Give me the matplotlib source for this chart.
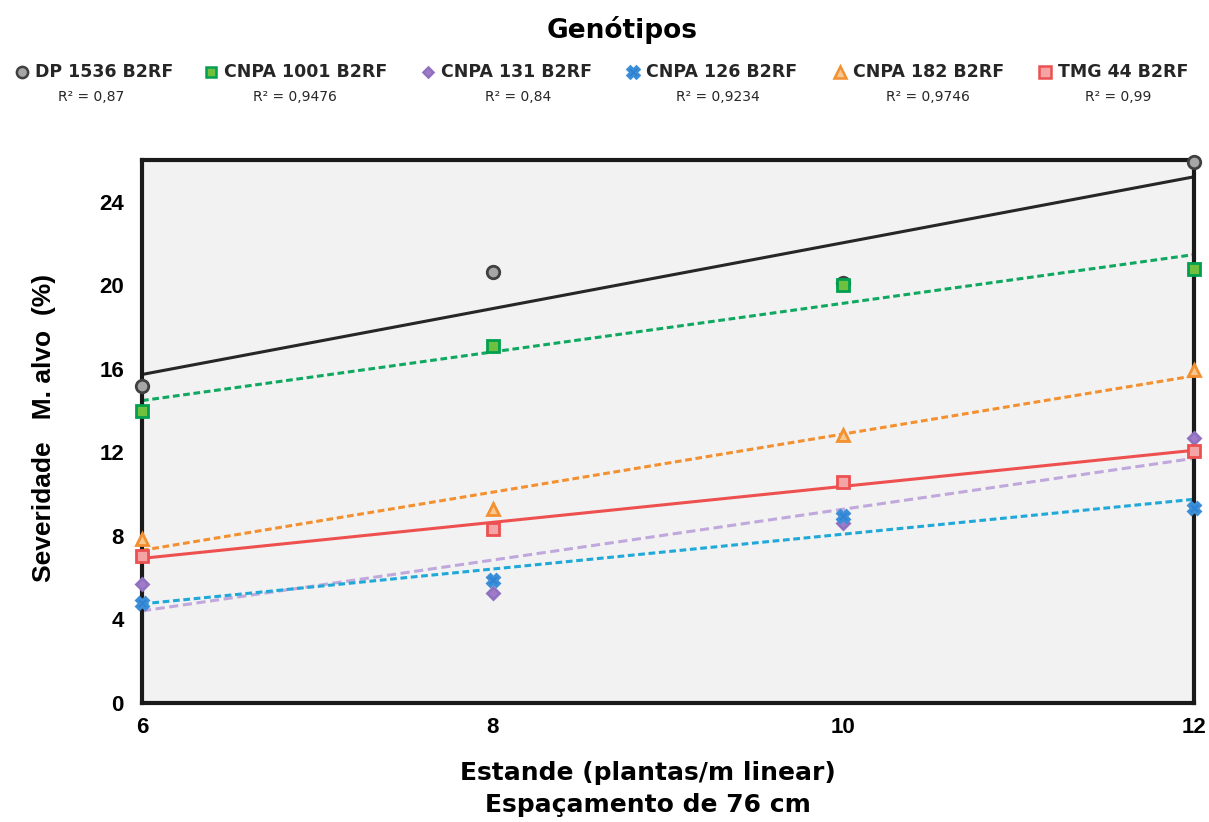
import numpy as np
from matplotlib import pyplot as plt
from matplotlib.lines import Line2D

# stand density (plants per linear metre)
estande = np.array([6, 8, 10, 12])

genotipos = ["DP 1536 B2RF", "CNPA 1001 B2RF", "CNPA 131 B2RF",
             "CNPA 126 B2RF", "CNPA 182 B2RF", "TMG 44 B2RF"]
r2_labels = ["R² = 0,87", "R² = 0,9476", "R² = 0,84",
             "R² = 0,9234", "R² = 0,9746", "R² = 0,99"]

# severity of M. alvo (%)
dp_1536 = [15.2, 20.65, 20.1, 25.9]
cnpa_1001 = [14.0, 17.1, 20.0, 20.8]
cnpa_131 = [5.7, 5.25, 8.6, 12.7]
cnpa_126 = [4.8, 5.9, 8.95, 9.35]
cnpa_182 = [7.85, 9.3, 12.85, 15.95]
tmg_44 = [7.05, 8.35, 10.6, 12.05]

series = [dp_1536, cnpa_1001, cnpa_131, cnpa_126, cnpa_182, tmg_44]

# marker / line styling per genotype
styles = [
    dict(marker="o", mfc="#a6a6a6", mec="#404040", lc="#262626", ls="-", ms=9),
    dict(marker="s", mfc="#70c040", mec="#00a050", lc="#10a860", ls=(0, (2.2, 1.2)), ms=8),
    dict(marker="D", mfc="#a07cc8", mec="#9070c0", lc="#c0a8dc", ls=(0, (3, 1.5)), ms=6),
    dict(marker="X", mfc="#2d80d0", mec="#3c8ed8", lc="#20a8d8", ls=(0, (2.2, 1.2)), ms=9),
    dict(marker="^", mfc="#f8c890", mec="#f39030", lc="#f39030", ls=(0, (2.2, 1.2)), ms=9),
    dict(marker="s", mfc="#f4a4a4", mec="#ec5050", lc="#ee5050", ls="-", ms=9),
]

plt.rcParams["font.family"] = "DejaVu Sans"
W, H = 1209, 822
fig = plt.figure(figsize=(W / 100, H / 100), dpi=100)
ax = fig.add_axes([142 / W, 1 - 703 / H, (1194 - 142) / W, (703 - 160) / H])
ax.set_facecolor("#f2f2f2")

xfit = np.array([6, 12])
for y, st in zip(series, styles):
    coef = np.polyfit(estande, y, 1)
    ax.plot(xfit, np.polyval(coef, xfit), color=st["lc"], ls=st["ls"], lw=2.2,
            clip_on=False, zorder=2)
    ax.plot(estande, y, ls="none", marker=st["marker"], ms=st["ms"],
            mfc=st["mfc"], mec=st["mec"], mew=2, clip_on=False, zorder=3)

ax.set_xlim(6, 12)
ax.set_ylim(0, 26)
ax.set_xticks([6, 8, 10, 12])
ax.set_yticks([0, 4, 8, 12, 16, 20, 24])
ax.tick_params(length=0, labelsize=16)
ax.tick_params(axis="y", pad=13)
ax.tick_params(axis="x", pad=10)
for lab in ax.get_xticklabels() + ax.get_yticklabels():
    lab.set_fontweight("bold")
    lab.set_family("Liberation Sans")
for sp in ax.spines.values():
    sp.set_linewidth(3)
    sp.set_color("#1a1a1a")

ax.set_ylabel("Severidade   M. alvo  (%)", fontsize=19, fontweight="bold",
              family="Liberation Sans")
ax.yaxis.set_label_coords(-(142 - 56) / (1194 - 142), (703 - 428) / 543)
ax.set_xlabel("Estande (plantas/m linear)\nEspaçamento de 76 cm", fontsize=18,
              fontweight="bold", linespacing=1.4)
ax.xaxis.set_label_coords((648 - 142) / (1194 - 142), -(761 - 703) / 543)

fig.text(622 / W, 1 - 30 / H, "Genótipos", ha="center", va="center",
         fontsize=19, fontweight="bold")

# legend row with R² values
leg_marker_x = [22, 211, 428, 633, 840, 1045]
r2_x = [91, 295, 518, 718, 928, 1118]
for name, r2, mx, rx, st in zip(genotipos, r2_labels, leg_marker_x, r2_x, styles):
    fig.add_artist(Line2D([mx / W], [1 - 72 / H], transform=fig.transFigure,
                          marker=st["marker"], ms=st["ms"] * 0.9, mfc=st["mfc"],
                          mec=st["mec"], mew=1.8, ls="none"))
    fig.text((mx + 13) / W, 1 - 72 / H, name, ha="left", va="center",
             fontsize=12.5, fontweight="bold", color="#262626")
    fig.text(rx / W, 1 - 97 / H, r2, ha="center", va="center",
             fontsize=10, color="#262626")

fig.savefig("out.png", dpi=100)
